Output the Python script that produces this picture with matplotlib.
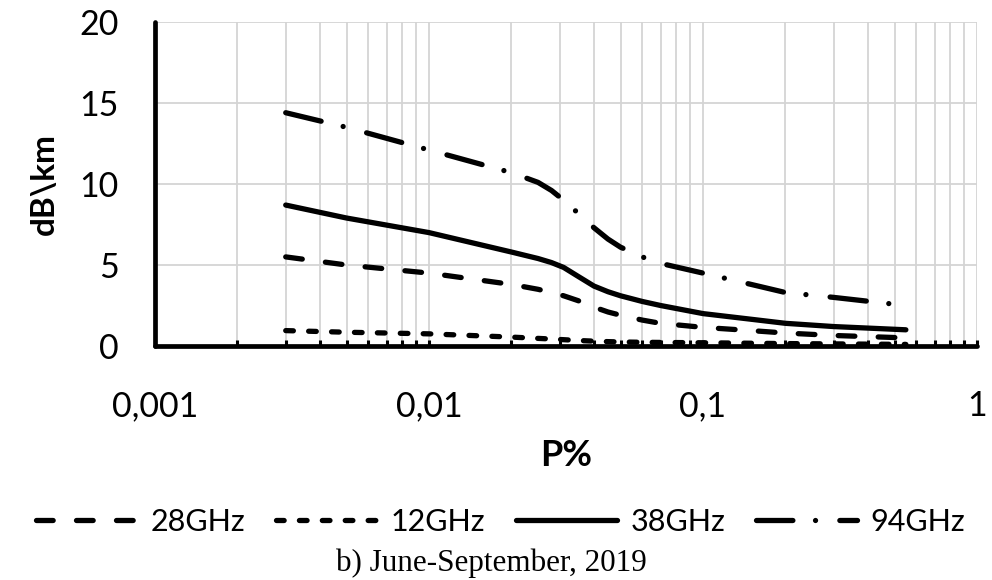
import matplotlib
matplotlib.use("Agg")
import matplotlib.pyplot as plt
from matplotlib.ticker import FixedLocator, LogLocator, NullFormatter

# ---- data ----
p_percent = [0.003, 0.005, 0.01, 0.02, 0.025, 0.028, 0.031, 0.035, 0.04, 0.045, 0.05, 0.06, 0.07, 0.1, 0.15, 0.2, 0.3, 0.55]
att_28 = [5.5, 5.0, 4.5, 3.8, 3.5, 3.3, 3.1, 2.8, 2.4, 2.1, 1.9, 1.6, 1.4, 1.15, 0.95, 0.8, 0.65, 0.5]
att_12 = [0.95, 0.85, 0.75, 0.55, 0.47, 0.43, 0.39, 0.34, 0.3, 0.27, 0.25, 0.23, 0.22, 0.2, 0.17, 0.15, 0.13, 0.1]
att_38 = [8.7, 7.9, 7.0, 5.8, 5.4, 5.15, 4.85, 4.3, 3.7, 3.35, 3.1, 2.75, 2.5, 2.0, 1.65, 1.4, 1.2, 1.0]
att_94 = [14.4, 13.5, 12.1, 10.7, 10.1, 9.6, 9.0, 8.2, 7.3, 6.6, 6.1, 5.5, 5.1, 4.5, 3.8, 3.3, 3.0, 2.5]
series_labels = ["28GHz", "12GHz", "38GHz", "94GHz"]
x_ticks = [0.001, 0.01, 0.1, 1]
x_ticklabels = ["0,001", "0,01", "0,1", "1"]
y_ticks = [0, 5, 10, 15, 20]

plt.rcParams["lines.scale_dashes"] = False
sans = ["Lato", "DejaVu Sans"]

fig = plt.figure(figsize=(9.92, 5.8), dpi=100)
ax = fig.add_axes([155 / 992, 1 - 346 / 580, (977 - 155) / 992, (346 - 22) / 580])

lw = 3.8
styles = {
    "28GHz": (0, (12.0, 16.8)),
    "12GHz": (0, (5.5, 11.0)),
    "38GHz": "-",
    "94GHz": (0, (26.2, 16.3, 0.01, 17.5)),
}
for lab, ys in zip(series_labels, [att_28, att_12, att_38, att_94]):
    ax.plot(p_percent, ys, color="black", lw=lw, linestyle=styles[lab],
            dash_capstyle="round", solid_capstyle="round", solid_joinstyle="round",
            dash_joinstyle="round", label=lab, zorder=3)

ax.set_xscale("log")
ax.set_xlim(0.001, 1)
ax.set_ylim(0, 20)
ax.xaxis.set_major_locator(FixedLocator(x_ticks))
ax.set_xticklabels(x_ticklabels)
ax.xaxis.set_minor_locator(LogLocator(base=10, subs=range(2, 10)))
ax.xaxis.set_minor_formatter(NullFormatter())
ax.set_yticks(y_ticks)

ax.grid(True, which="major", axis="both", color="#d4d4d4", lw=1.3, zorder=0)
ax.grid(True, which="minor", axis="x", color="#d4d4d4", lw=1.3, zorder=0)

for s in ["top", "right"]:
    ax.spines[s].set_visible(False)
for s in ["left", "bottom"]:
    ax.spines[s].set_linewidth(3.4)
    ax.spines[s].set_capstyle("round")
    ax.spines[s].set_zorder(4)

ax.tick_params(axis="x", which="both", direction="in", length=4, width=2.2, pad=32)
ax.tick_params(axis="y", which="both", length=0, pad=26)
for t in ax.get_xticklabels() + ax.get_yticklabels():
    t.set_fontfamily(sans)
    t.set_fontsize(24.5)

ax.set_xlabel("P%", fontsize=26, fontweight="bold", family=sans, labelpad=12)
ax.set_ylabel("dB\\km", fontsize=24, fontweight="bold", family=sans, labelpad=15)

fig.legend(loc="center", bbox_to_anchor=(0.505, 0.1), ncol=4, frameon=False,
           prop={"family": sans, "size": 22}, handlelength=3.3, handletextpad=0.45,
           columnspacing=1.0)

fig.text(0.495, 1 - 563 / 580, "b) June-September, 2019", ha="center", va="center",
         fontsize=22.4, family=["Liberation Serif", "DejaVu Serif"])

fig.savefig("out.png", dpi=100)
